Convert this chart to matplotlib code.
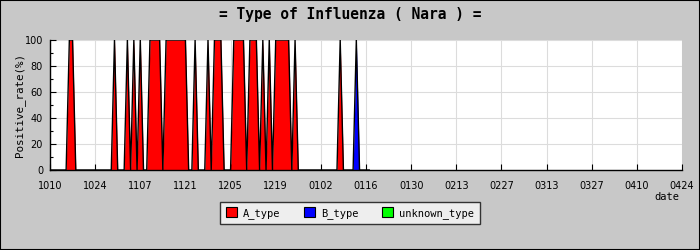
import matplotlib
matplotlib.use("Agg")
import matplotlib.pyplot as plt
import numpy as np
from matplotlib.patches import Patch, Rectangle

# daily positive rate (%) from 1010, one value per day
A_TYPE = [
    0, 0, 0, 0, 0, 0, 100, 100, 0, 0, 0, 0, 0, 0, 0, 0, 0, 0, 0, 0,
    100, 0, 0, 0, 100, 0, 100, 0, 100, 0, 0, 100, 100, 100, 100, 0, 100, 100, 100, 100,
    100, 100, 100, 0, 0, 100, 0, 0, 0, 100, 0, 100, 100, 100, 0, 0, 0, 100, 100, 100,
    100, 0, 100, 100, 100, 0, 100, 0, 100, 0, 100, 100, 100, 100, 100, 0, 100, 0, 0, 0,
    0, 0, 0, 0, 0, 0, 0, 0, 0, 0, 100, 0, 0, 0, 0, 0, 0, 0, 0, 0,
]
B_TYPE = [
    0, 0, 0, 0, 0, 0, 0, 0, 0, 0, 0, 0, 0, 0, 0, 0, 0, 0, 0, 0,
    0, 0, 0, 0, 0, 0, 0, 0, 0, 0, 0, 0, 0, 0, 0, 0, 0, 0, 0, 0,
    0, 0, 0, 0, 0, 0, 0, 0, 0, 0, 0, 0, 0, 0, 0, 0, 0, 0, 0, 0,
    0, 0, 0, 0, 0, 0, 0, 0, 0, 0, 0, 0, 0, 0, 0, 0, 0, 0, 0, 0,
    0, 0, 0, 0, 0, 0, 0, 0, 0, 0, 0, 0, 0, 0, 0, 100, 0, 0, 0, 0,
]
UNKNOWN_TYPE = [0] * len(A_TYPE)

TICK_LABELS = ["1010", "1024", "1107", "1121", "1205", "1219", "0102", "0116",
               "0130", "0213", "0227", "0313", "0327", "0410", "0424"]
TICK_STEP_DAYS = 14

SERIES = [("A_type", A_TYPE, "#ff0000"),
          ("B_type", B_TYPE, "#0000ff"),
          ("unknown_type", UNKNOWN_TYPE, "#00ff00")]

BG = "#c8c8c8"


def main():
    fig = plt.figure(figsize=(7, 2.5), dpi=100, facecolor=BG)
    ax = fig.add_axes([50 / 700, 80 / 250, 632 / 700, 130 / 250])
    ax.set_facecolor("white")

    x = np.arange(len(A_TYPE))
    base = np.zeros(len(A_TYPE))
    for name, vals, color in SERIES:
        top = base + np.asarray(vals, dtype=float)
        ax.fill_between(x, base, top, color=color, linewidth=0, zorder=2)
        base = top
    ax.plot(x, base, color="black", linewidth=1.0, zorder=3)

    ticks = np.arange(len(TICK_LABELS)) * TICK_STEP_DAYS
    ax.set_xlim(0, ticks[-1])
    ax.set_ylim(0, 100)
    ax.set_xticks(ticks)
    ax.set_xticklabels(TICK_LABELS, fontsize=7, family="DejaVu Sans")
    ax.set_yticks(np.arange(0, 101, 20))
    ax.set_yticks(np.arange(10, 100, 20), minor=True)
    ax.tick_params(axis="y", labelsize=7)
    ax.tick_params(which="major", direction="in", length=4, width=0.8, pad=5)
    ax.tick_params(axis="x", which="major", pad=8)
    ax.tick_params(which="minor", direction="in", length=2.5, width=0.8)
    ax.grid(True, which="major", color="#dcdcdc", linewidth=0.8, zorder=0)
    ax.set_axisbelow(True)

    for side in ("top", "right"):
        ax.spines[side].set_visible(False)
    for side in ("left", "bottom"):
        ax.spines[side].set_linewidth(1.0)
        ax.spines[side].set_zorder(4)

    mono = "DejaVu Sans Mono"
    fig.text(0.5, 1 - 15 / 250, "= Type of Influenza ( Nara ) =", ha="center",
             va="center", fontsize=10.5, family=mono, weight="bold")
    fig.text(20 / 700, 1 - 105 / 250, "Positive_rate(%)", rotation=90,
             ha="center", va="center", fontsize=7.8, family=mono)
    fig.text(667 / 700, 1 - 197 / 250, "date", ha="center", va="center",
             fontsize=7.5, family=mono)

    handles = [Patch(facecolor=c, edgecolor="black", linewidth=0.8, label=n)
               for n, _, c in SERIES]
    leg = fig.legend(handles=handles, loc="center", ncol=3,
                     bbox_to_anchor=(350 / 700, 1 - 213 / 250),
                     prop={"family": mono, "size": 7.5}, fancybox=False,
                     facecolor="#eeeeee", edgecolor="#333333", framealpha=1,
                     handlelength=1.1, handleheight=1.1, handletextpad=0.6,
                     columnspacing=2.2, borderpad=0.5)
    leg.get_frame().set_linewidth(1.0)

    fig.patches.append(Rectangle((0, 0), 1, 1, transform=fig.transFigure,
                                 fill=False, edgecolor="black", linewidth=1.5))

    fig.savefig("out.png", dpi=100, facecolor=BG)


if __name__ == "__main__":
    main()
